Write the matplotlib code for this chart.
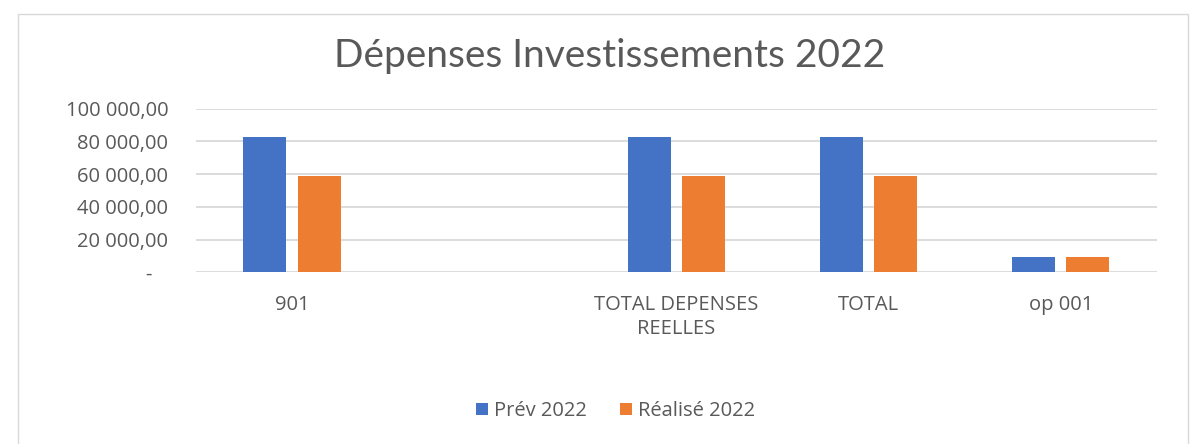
import matplotlib
matplotlib.use('Agg')
import matplotlib.pyplot as plt
from matplotlib.ticker import FuncFormatter
from matplotlib.patches import Rectangle
import numpy as np

# Data
categories = ["901", "", "TOTAL DEPENSES\nREELLES", "TOTAL", "op 001"]
prev_2022 = [82500, 0, 82500, 82500, 9500]
realise_2022 = [58900, 0, 58900, 58900, 9500]
series_names = ["Prév 2022", "Réalisé 2022"]

blue = "#4472C4"
orange = "#ED7D31"
grey_text = "#595959"

plt.rcParams['font.family'] = ['Open Sans', 'DejaVu Sans']

fig = plt.figure(figsize=(12, 4.44), dpi=100)
ax = fig.add_axes([0.1633, 0.3867, 0.8007, 0.3683])

# chart border
fig.patches.append(Rectangle((18 / 1200, -0.01), 1170 / 1200, 1 - 14 / 444 + 0.01,
                             transform=fig.transFigure, fill=False,
                             edgecolor="#d9d9d9", linewidth=1))

x = np.arange(len(categories))
w = 0.2235
gap = 0.06
ax.bar(x - (w + gap) / 2, prev_2022, width=w, color=blue, label=series_names[0], zorder=3)
ax.bar(x + (w + gap) / 2, realise_2022, width=w, color=orange, label=series_names[1], zorder=3)

ax.set_xlim(-0.5, len(categories) - 0.5)
ax.set_ylim(0, 100000)
ax.set_yticks(np.arange(0, 100001, 20000))


def fmt(v, pos):
    if v == 0:
        return "-   "
    return f"{v:,.2f}".replace(",", " ").replace(".", ",")


ax.yaxis.set_major_formatter(FuncFormatter(fmt))
ax.grid(axis='y', color="#d9d9d9", linewidth=1.3, zorder=0)
for s in ax.spines.values():
    s.set_visible(False)
ax.tick_params(axis='y', length=0, labelsize=14.5, labelcolor=grey_text, pad=20)
ax.set_xticks(x)
ax.set_xticklabels(categories, linespacing=1.3)
ax.tick_params(axis='x', length=0, labelsize=14.5, labelcolor=grey_text, pad=16)

fig.text(0.508, 0.875, "Dépenses Investissements 2022", ha='center', va='center',
         fontsize=28, color=grey_text, family=['Lato', 'DejaVu Sans'])

fig.legend(loc='center', bbox_to_anchor=(0.513, 0.074), ncol=2, frameon=False,
           fontsize=14.5, labelcolor=grey_text, handlelength=0.6, handleheight=0.6,
           handletextpad=0.3, columnspacing=1.6)

fig.savefig("out.png", dpi=100)
plt.close(fig)
